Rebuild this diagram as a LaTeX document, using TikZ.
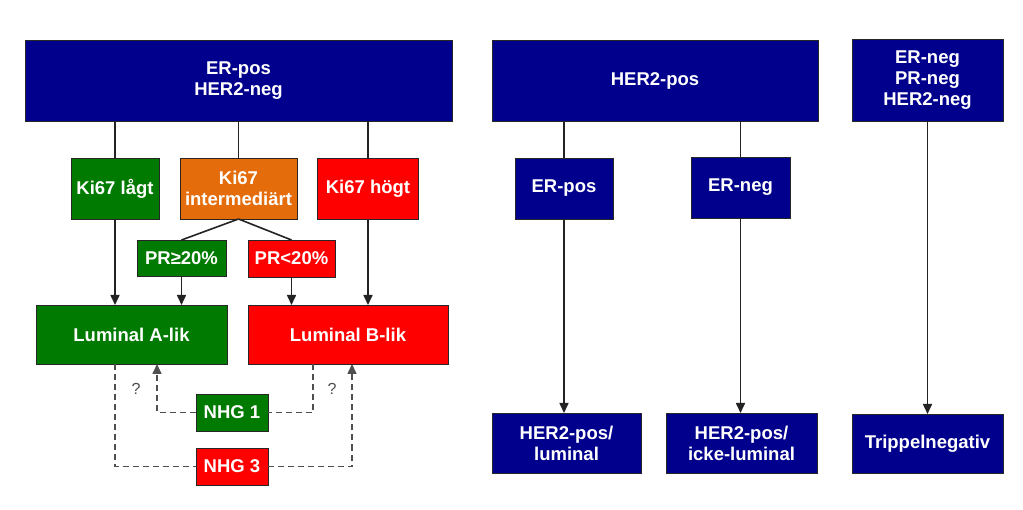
\documentclass[tikz,border=0pt]{standalone}
\usepackage{fontspec}
\setmainfont{Liberation Sans}
\usetikzlibrary{arrows.meta,calc}
\definecolor{navybox}{RGB}{0,0,140}
\definecolor{greenbox}{RGB}{0,122,0}
\definecolor{redbox}{RGB}{255,0,0}
\definecolor{orangebox}{RGB}{228,108,10}
\definecolor{linegray}{RGB}{35,35,35}
\begin{document}
\begin{tikzpicture}[x=1pt,y=-1pt,
  box/.style={draw=black!85,line width=0.8pt,inner sep=0pt,outer sep=0pt,
    text=white,align=center,font=\fontsize{18.5}{21}\selectfont\bfseries},
  nav/.style={box,fill=navybox},
  grn/.style={box,fill=greenbox},
  rd/.style={box,fill=redbox},
  org/.style={box,fill=orangebox},
  conn/.style={draw=linegray,line width=1.6pt},
  arr/.style={conn,-{Triangle[length=10pt,width=9pt]}},
  dsh/.style={draw=linegray!80,line width=1.6pt,dash pattern=on 6pt off 4pt},
  darr/.style={dsh,-{Triangle[length=10pt,width=9pt]}},
  qm/.style={text=black!70,font=\fontsize{16}{18}\selectfont}]
\useasboundingbox (0,0) rectangle (1023,510);
% left block
\node[nav,minimum width=427,minimum height=81] (top1) at (238.5,80.5) {ER-pos\\HER2-neg};
\node[grn,minimum width=88,minimum height=61] (ki67l) at (115,188.5) {Ki67 lågt};
\node[org,minimum width=117,minimum height=61] (ki67i) at (238.5,188.5) {Ki67\\intermediärt};
\node[rd,minimum width=101,minimum height=61] (ki67h) at (368,188.5) {Ki67 högt};
\node[grn,minimum width=89,minimum height=36] (pr1) at (181.5,258) {PR≥20\%};
\node[rd,minimum width=87,minimum height=37] (pr2) at (291.5,258.5) {PR<20\%};
\node[grn,minimum width=191,minimum height=59] (lumA) at (131.5,334.5) {Luminal A-lik};
\node[rd,minimum width=200,minimum height=59] (lumB) at (348,334.5) {Luminal B-lik};
\node[grn,minimum width=72,minimum height=37] (nhg1) at (232,412.5) {NHG 1};
\node[rd,minimum width=72,minimum height=37] (nhg3) at (232,466.5) {NHG 3};
\node[qm] (q1) at (136,389) {?};
\node[qm] (q2) at (332,389) {?};
% middle block
\node[nav,minimum width=326,minimum height=81] (her2) at (655,80.5) {HER2-pos};
\node[nav,minimum width=98,minimum height=61] (erpos) at (564,188.5) {ER-pos};
\node[nav,minimum width=99,minimum height=61] (erneg) at (740.5,187.5) {ER-neg};
\node[nav,minimum width=149,minimum height=60] (hl) at (566.5,443) {HER2-pos/\\luminal};
\node[nav,minimum width=151,minimum height=60] (hil) at (741.5,443) {HER2-pos/\\icke-luminal};
% right block
\node[nav,minimum width=151,minimum height=82] (tn) at (927.5,80) {ER-neg\\PR-neg\\HER2-neg};
\node[nav,minimum width=151,minimum height=59] (trip) at (927.5,443.5) {Trippelnegativ};
% connectors left
\draw[conn] (top1.south -| ki67l.north) -- (ki67l.north);
\draw[conn] (top1.south -| ki67i.north) -- (ki67i.north);
\draw[conn] (top1.south -| ki67h.north) -- (ki67h.north);
\draw[conn] (ki67i.south) -- (pr1.north);
\draw[conn] (ki67i.south) -- (pr2.north);
\draw[arr] (ki67l.south) -- (ki67l.south |- lumA.north);
\draw[arr] (pr1.south) -- (pr1.south |- lumA.north);
\draw[arr] (pr2.south) -- (pr2.south |- lumB.north);
\draw[arr] (ki67h.south) -- (ki67h.south |- lumB.north);
% dashed
\draw[dsh] ([xshift=-16.5pt]lumA.south) |- (nhg3.west);
\draw[darr] (nhg3.east) -| ([xshift=4pt]lumB.south);
\draw[dsh] ([xshift=-35pt]lumB.south) |- (nhg1.east);
\draw[darr] (nhg1.west) -| ([xshift=25.5pt]lumA.south);
% connectors middle/right
\draw[conn] (her2.south -| erpos.north) -- (erpos.north);
\draw[conn] (her2.south -| erneg.north) -- (erneg.north);
\draw[arr] (erpos.south) -- (erpos.south |- hl.north);
\draw[arr] (erneg.south) -- (erneg.south |- hil.north);
\draw[arr] (tn.south) -- (trip.north);
\end{tikzpicture}
\end{document}
